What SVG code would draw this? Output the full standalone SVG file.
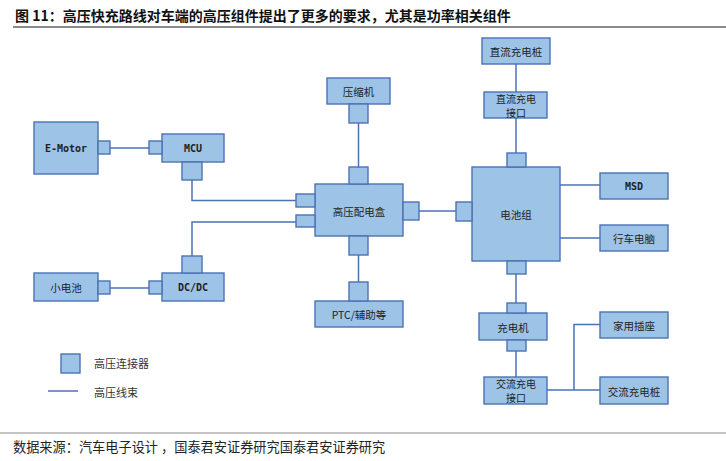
<svg xmlns="http://www.w3.org/2000/svg" width="726" height="461" viewBox="0 0 726 461">
<style>
.box{fill:#9DC3E6;stroke:#4C72B4;stroke-width:1.4}
.con{fill:#9DC3E6;stroke:#4C72B4;stroke-width:1.4}
.wire{fill:none;stroke:#4C72B4;stroke-width:1.5}
.lbl{font-family:"Noto Sans CJK SC","Liberation Sans",sans-serif;font-size:10.5px;fill:#222;text-anchor:middle;dominant-baseline:central}
.lbl2{font-family:"Noto Sans CJK SC","Liberation Sans",sans-serif;font-size:10px;fill:#222;text-anchor:middle;dominant-baseline:central}
.en{font-family:"DejaVu Sans Mono","Liberation Mono",monospace;font-size:10px;font-weight:bold;fill:#222;text-anchor:middle;dominant-baseline:central}
.leg{font-family:"Noto Sans CJK SC",sans-serif;font-size:11px;fill:#333;dominant-baseline:central}
.title{font-family:"Noto Sans CJK SC",sans-serif;font-size:14px;font-weight:bold;fill:#111;dominant-baseline:central}
.src{font-family:"Noto Sans CJK SC",sans-serif;font-size:13.2px;fill:#222;dominant-baseline:central}
</style>
<rect width="726" height="461" fill="#fff"/>
<text class="title" x="15" y="15">图 11：高压快充路线对车端的高压组件提出了更多的要求，尤其是功率相关组件</text>
<line x1="13" y1="27" x2="726" y2="27" stroke="#666" stroke-width="1.5"/>

<g id="connectors">
<polyline class="wire" points="110,148 149,148"/>
<polyline class="wire" points="192,180 192,200.5 296,200.5"/>
<polyline class="wire" points="192,256 192,222 296,222"/>
<polyline class="wire" points="110,288 149,288"/>
<polyline class="wire" points="358.5,123 358.5,167"/>
<polyline class="wire" points="419,211 456,211"/>
<polyline class="wire" points="358.5,255 358.5,282"/>
<polyline class="wire" points="516,64 516,92"/>
<polyline class="wire" points="516,118 516,153"/>
<polyline class="wire" points="560,185 600,185"/>
<polyline class="wire" points="560,238 600,238"/>
<polyline class="wire" points="516,274 516,303"/>
<polyline class="wire" points="516,351 516,377"/>
<polyline class="wire" points="547,390 600,390"/>
<polyline class="wire" points="574,390 574,324.5 600,324.5"/>
</g>

<g id="emotor">
<rect class="box" x="34" y="122" width="64" height="52"/>
<rect class="con" x="98" y="141" width="12" height="13"/>
<text class="en" x="66" y="148">E-Motor</text>
</g>
<g id="mcu">
<rect class="box" x="162" y="134" width="62" height="28"/>
<rect class="con" x="149" y="141" width="13" height="13"/>
<rect class="con" x="182" y="162" width="20" height="18"/>
<text class="en" x="193" y="148">MCU</text>
</g>
<g id="dcdc">
<rect class="box" x="162" y="273" width="62" height="28"/>
<rect class="con" x="182" y="256" width="20" height="17"/>
<rect class="con" x="149" y="281" width="13" height="13"/>
<text class="en" x="193" y="287.5">DC/DC</text>
</g>
<g id="small-battery">
<rect class="box" x="34" y="273" width="64" height="28"/>
<rect class="con" x="98" y="281" width="12" height="13"/>
<text class="lbl" x="66" y="287">小电池</text>
</g>
<g id="compressor">
<rect class="box" x="327" y="78" width="63" height="26"/>
<rect class="con" x="349" y="104" width="19" height="19"/>
<text class="lbl" x="358.5" y="91">压缩机</text>
</g>
<g id="pdu">
<rect class="box" x="315" y="184" width="88" height="52"/>
<rect class="con" x="349" y="167" width="19" height="17"/>
<rect class="con" x="296" y="194" width="19" height="13"/>
<rect class="con" x="296" y="215" width="19" height="12"/>
<rect class="con" x="403" y="202" width="16" height="18"/>
<rect class="con" x="349" y="236" width="19" height="19"/>
<text class="lbl" x="359" y="211">高压配电盒</text>
</g>
<g id="ptc">
<rect class="box" x="315" y="301" width="88" height="26"/>
<rect class="con" x="349" y="282" width="19" height="19"/>
<text class="lbl" x="359" y="314">PTC/辅助等</text>
</g>
<g id="dc-pile">
<rect class="box" x="482" y="38" width="68" height="26"/>
<text class="lbl" x="516" y="51">直流充电桩</text>
</g>
<g id="dc-port">
<rect class="box" x="484" y="92" width="63" height="26"/>
<text class="lbl2" x="516" y="98.5">直流充电</text>
<text class="lbl2" x="516" y="112">接口</text>
</g>
<g id="battery">
<rect class="box" x="472" y="167" width="88" height="94"/>
<rect class="con" x="507" y="153" width="19" height="14"/>
<rect class="con" x="456" y="202" width="16" height="19"/>
<rect class="con" x="507" y="261" width="19" height="13"/>
<text class="lbl" x="516" y="214">电池组</text>
</g>
<g id="msd">
<rect class="box" x="600" y="173" width="68" height="26"/>
<text class="en" x="634" y="186">MSD</text>
</g>
<g id="ecu">
<rect class="box" x="600" y="225" width="68" height="26"/>
<text class="lbl" x="634" y="238">行车电脑</text>
</g>
<g id="charger">
<rect class="box" x="479" y="313" width="68" height="27"/>
<rect class="con" x="507" y="303" width="19" height="10"/>
<rect class="con" x="507" y="340" width="19" height="11"/>
<text class="lbl" x="513" y="327">充电机</text>
</g>
<g id="ac-port">
<rect class="box" x="484" y="377" width="63" height="27"/>
<text class="lbl2" x="516" y="383.5">交流充电</text>
<text class="lbl2" x="516" y="397.5">接口</text>
</g>
<g id="socket">
<rect class="box" x="600" y="312" width="68" height="26"/>
<text class="lbl" x="634" y="325">家用插座</text>
</g>
<g id="ac-pile">
<rect class="box" x="600" y="377" width="68" height="27"/>
<text class="lbl" x="634" y="391">交流充电桩</text>
</g>

<g id="legend">
<rect class="con" x="61" y="354" width="19" height="19"/>
<text class="leg" x="94" y="363">高压连接器</text>
<line class="wire" x1="48" y1="391" x2="78" y2="391"/>
<text class="leg" x="94" y="392">高压线束</text>
</g>

<line x1="0" y1="433" x2="726" y2="433" stroke="#888" stroke-width="1.2"/>
<text class="src" x="13" y="446">数据来源：汽车电子设计 ，国泰君安证券研究国泰君安证券研究</text>
</svg>
